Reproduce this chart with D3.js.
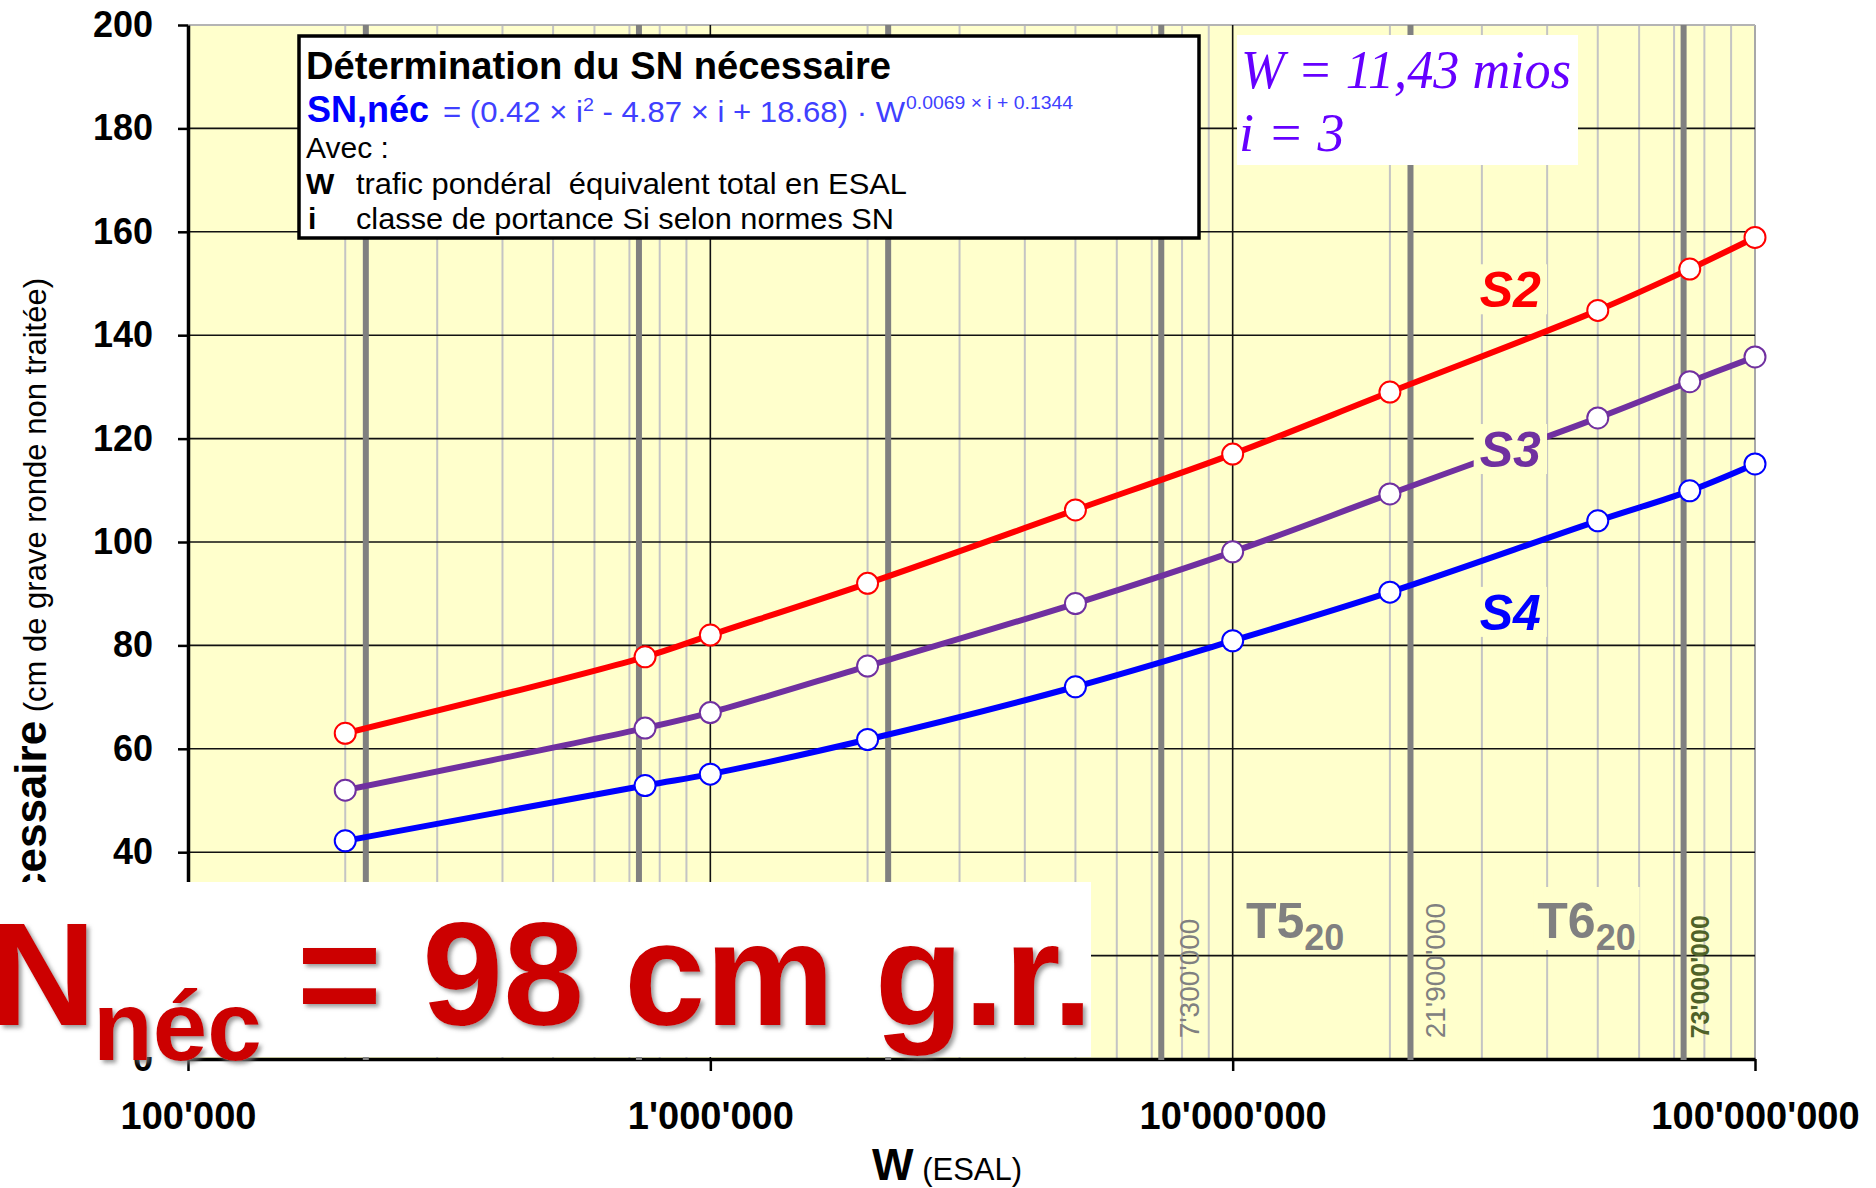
<!DOCTYPE html>
<html>
<head>
<meta charset="utf-8">
<script src="https://cdn.jsdelivr.net/npm/d3@7"></script>
<style>
  html, body { margin: 0; padding: 0; background: #ffffff; }
  svg { display: block; font-family: "Liberation Sans", Arial, Helvetica, sans-serif; }
</style>
</head>
<body>
<svg id="chart" width="1876" height="1188"></svg>
<script>
// ---- data -------------------------------------------------------------
// traffic W (ESAL) at which the required SN was evaluated
const trafficW = [200000, 750000, 1000000, 2000000, 5000000, 10000000, 20000000, 50000000, 75000000, 100000000];
// required SN (cm of untreated round gravel) for each bearing class
const snS2 = [63, 77.8, 82, 92, 106.2, 117, 129, 144.8, 152.8, 158.9];
const snS3 = [52, 64, 67, 76, 88.1, 98.1, 109.3, 124, 131, 135.8];
const snS4 = [42.2, 52.9, 55.1, 61.8, 72, 80.9, 90.3, 104.1, 109.9, 115.1];
const seriesNames = ["S2", "S3", "S4"];
const seriesColors = ["#ff0000", "#7030a0", "#0000ff"];
// label anchor (in data units) for each series name
const seriesLabelW = 3.4e7;
const seriesLabelSN = [145.4, 114.5, 83.0];

// traffic class limits (20-year ESAL)
const classLimits = [219000, 730000, 2190000, 7300000, 21900000, 73000000];
const limitLabels = ["7'300'000", "21'900'000", "73'000'000"];
const limitLabelW = [7300000, 21900000, 73000000];
const trafficClasses = ["T5", "T6"];
const trafficClassFrom = [1.06e7, 3.83e7];

// axes
const xTickValues = [1e5, 1e6, 1e7, 1e8];
const xTickLabels = ["100'000", "1'000'000", "10'000'000", "100'000'000"];
const yTickValues = [0, 20, 40, 60, 80, 100, 120, 140, 160, 180, 200];

// ---- scales -----------------------------------------------------------
const svg = d3.select("#chart");
const X0 = 188, X1 = 1755, Y0 = 1059, Y1 = 25;
const x = d3.scaleLog().domain([1e5, 1e8]).range([X0, X1]);
const y = d3.scaleLinear().domain([0, 200]).range([Y0, Y1]);

// drop shadow for the big result text
const defs = svg.append("defs");
const shadow = defs.append("filter").attr("id", "shadow")
  .attr("x", "-5%").attr("y", "-10%").attr("width", "115%").attr("height", "130%");
shadow.append("feDropShadow").attr("dx", 3).attr("dy", 3).attr("stdDeviation", 2)
  .attr("flood-color", "#7a7a7a").attr("flood-opacity", 0.75);

// ---- plot area --------------------------------------------------------
svg.append("rect").attr("x", X0).attr("y", Y1).attr("width", X1 - X0).attr("height", Y0 - Y1)
  .attr("fill", "#ffffcc");

const grid = svg.append("g");
// minor verticals 2..9 in each decade
const minorW = [];
[1e5, 1e6, 1e7].forEach(d => { for (let k = 2; k <= 9; k++) minorW.push(k * d); });
grid.selectAll("line.minor").data(minorW).join("line").attr("class", "minor")
  .attr("x1", d => x(d)).attr("x2", d => x(d)).attr("y1", Y1).attr("y2", Y0)
  .attr("stroke", "#c4c4c4").attr("stroke-width", 2);
// right border
grid.append("line").attr("x1", x(1e8)).attr("x2", x(1e8)).attr("y1", Y1).attr("y2", Y0)
  .attr("stroke", "#a8a8a8").attr("stroke-width", 2);
// horizontal gridlines
grid.selectAll("line.h").data(yTickValues.filter(v => v > 0)).join("line").attr("class", "h")
  .attr("x1", X0).attr("x2", X1).attr("y1", d => y(d)).attr("y2", d => y(d))
  .attr("stroke", d => d === 200 ? "#b4b4b4" : "#111").attr("stroke-width", d => d === 200 ? 2 : 1.6);
// decade verticals
grid.selectAll("line.dec").data([1e6, 1e7]).join("line").attr("class", "dec")
  .attr("x1", d => x(d)).attr("x2", d => x(d)).attr("y1", Y1).attr("y2", Y0)
  .attr("stroke", "#111").attr("stroke-width", 1.6);

// ---- axes -------------------------------------------------------------
const yAxis = svg.append("g").attr("transform", `translate(${X0},0)`)
  .call(d3.axisLeft(y).tickValues(yTickValues).tickSize(10).tickSizeOuter(0).tickPadding(25));
yAxis.select(".domain").attr("stroke", "#000").attr("stroke-width", 3.5);
yAxis.selectAll(".tick line").attr("stroke", "#000").attr("stroke-width", 2.5);
yAxis.selectAll(".tick text").attr("font-size", 36).attr("font-weight", "bold").attr("fill", "#000");

const xAxis = svg.append("g").attr("transform", `translate(0,${Y0})`)
  .call(d3.axisBottom(x).tickValues(xTickValues).tickFormat((d, i) => xTickLabels[i])
    .tickSize(12).tickSizeOuter(0).tickPadding(31));
xAxis.select(".domain").attr("stroke", "#000").attr("stroke-width", 3.5);
xAxis.selectAll(".tick line").attr("stroke", "#000").attr("stroke-width", 2.5);
xAxis.selectAll(".tick text").attr("font-size", 38).attr("font-weight", "bold").attr("fill", "#000");

// traffic class limits
svg.append("g").selectAll("line").data(classLimits).join("line")
  .attr("x1", d => x(d)).attr("x2", d => x(d)).attr("y1", Y1).attr("y2", Y0 + 1)
  .attr("stroke", "#808080").attr("stroke-width", 6);

// axis titles
const yTitle = svg.append("text").attr("transform", "translate(46,278) rotate(-90)")
  .attr("text-anchor", "end").attr("fill", "#000");
yTitle.append("tspan").attr("font-size", 44).attr("font-weight", "bold").text("SN nécessaire");
yTitle.append("tspan").attr("font-size", 31).text(" (cm de grave ronde non traitée)");

const xTitle = svg.append("text").attr("x", 872).attr("y", 1180).attr("fill", "#000")
  .style("white-space", "pre");
xTitle.append("tspan").attr("font-size", 44).attr("font-weight", "bold").text("W");
xTitle.append("tspan").attr("font-size", 31).text(" (ESAL)");

// ---- series -----------------------------------------------------------
const seriesValues = [snS2, snS3, snS4];
const line = d3.line().x(d => x(d[0])).y(d => y(d[1])).curve(d3.curveCatmullRom.alpha(0.5));
seriesValues.forEach((vals, s) => {
  const pts = trafficW.map((w, i) => [w, vals[i]]);
  const g = svg.append("g");
  g.append("path").attr("d", line(pts)).attr("fill", "none")
    .attr("stroke", seriesColors[s]).attr("stroke-width", 6).attr("stroke-linejoin", "round");
  g.selectAll("circle").data(pts).join("circle")
    .attr("cx", d => x(d[0])).attr("cy", d => y(d[1])).attr("r", 10.5)
    .attr("fill", "#fff").attr("stroke", seriesColors[s]).attr("stroke-width", 2);
});

// series names with a background patch
seriesNames.forEach((name, s) => {
  const g = svg.append("g");
  const bg = g.append("rect").attr("fill", "#ffffcc");
  const t = g.append("text").attr("x", x(seriesLabelW)).attr("y", y(seriesLabelSN[s]))
    .attr("text-anchor", "middle").attr("font-size", 50).attr("font-weight", "bold")
    .attr("font-style", "italic").attr("fill", seriesColors[s]).text(name);
  const b = t.node().getBBox();
  bg.attr("x", b.x - 6).attr("y", b.y + 2).attr("width", b.width + 12).attr("height", b.height - 6);
});

// traffic class names
trafficClasses.forEach((name, i) => {
  const g = svg.append("g");
  const bg = g.append("rect").attr("fill", "#ffffcc");
  const t = g.append("text").attr("x", x(trafficClassFrom[i])).attr("y", 938)
    .attr("fill", "#808080").attr("font-weight", "bold");
  t.append("tspan").attr("font-size", 50).text(name);
  t.append("tspan").attr("font-size", 36).attr("dy", 12).text("20");
  const b = t.node().getBBox();
  bg.attr("x", b.x - 4).attr("y", b.y - 6).attr("width", b.width + 8).attr("height", 950 - (b.y - 6));
});

// class limit values, written vertically beside their line
const limitOffset = [38, 35, 25];
const limitSize = [28, 28, 25];
const limitColor = ["#808080", "#808080", "#4f6228"];
const limitWeight = ["normal", "normal", "bold"];
limitLabels.forEach((txt, i) => {
  const px = x(limitLabelW[i]) + limitOffset[i];
  svg.append("text").attr("transform", `translate(${px},${y(4)}) rotate(-90)`)
    .attr("font-size", limitSize[i]).attr("font-weight", limitWeight[i])
    .attr("fill", limitColor[i]).text(txt);
});

// ---- formula box ------------------------------------------------------
const box = svg.append("g");
box.append("rect").attr("x", 299).attr("y", 36).attr("width", 900).attr("height", 202)
  .attr("fill", "#fff").attr("stroke", "#000").attr("stroke-width", 3.5);
box.append("text").attr("x", 306).attr("y", 79).attr("font-size", 38).attr("font-weight", "bold")
  .attr("textLength", 585).attr("lengthAdjust", "spacingAndGlyphs")
  .text("Détermination du SN nécessaire");
box.append("text").attr("x", 307).attr("y", 122).attr("font-size", 36).attr("font-weight", "bold")
  .attr("fill", "#0000ff").text("SN,néc");
const f = box.append("text").attr("x", 443).attr("y", 122).attr("font-size", 30).attr("fill", "#4040ff")
  .attr("textLength", 462).attr("lengthAdjust", "spacingAndGlyphs");
f.append("tspan").text("= (0.42 × i");
f.append("tspan").attr("font-size", 19).attr("dy", -11).text("2");
f.append("tspan").attr("dy", 11).text(" - 4.87 × i + 18.68) · W");
box.append("text").attr("x", 906).attr("y", 109).attr("font-size", 19).attr("fill", "#4040ff")
  .attr("textLength", 167).attr("lengthAdjust", "spacingAndGlyphs").text("0.0069 × i + 0.1344");
box.append("text").attr("x", 306).attr("y", 158).attr("font-size", 30).text("Avec :");
box.append("text").attr("x", 306).attr("y", 194).attr("font-size", 30).attr("font-weight", "bold").text("W");
box.append("text").attr("x", 356).attr("y", 194).attr("font-size", 30).style("white-space", "pre")
  .attr("textLength", 551).attr("lengthAdjust", "spacingAndGlyphs")
  .text("trafic pondéral  équivalent total en ESAL");
box.append("text").attr("x", 308).attr("y", 229).attr("font-size", 30).attr("font-weight", "bold").text("i");
box.append("text").attr("x", 356).attr("y", 229).attr("font-size", 30)
  .attr("textLength", 538).attr("lengthAdjust", "spacingAndGlyphs")
  .text("classe de portance Si selon normes SN");

// ---- input values -----------------------------------------------------
const inp = svg.append("g");
inp.append("rect").attr("x", 1237).attr("y", 35).attr("width", 341).attr("height", 130).attr("fill", "#fff");
inp.append("text").attr("x", 1241).attr("y", 88).attr("font-family", "'Liberation Serif', 'Times New Roman', serif")
  .attr("font-style", "italic").attr("font-size", 54).attr("fill", "#6600ff")
  .attr("textLength", 330).attr("lengthAdjust", "spacingAndGlyphs").text("W = 11,43 mios");
inp.append("text").attr("x", 1239).attr("y", 151).attr("font-family", "'Liberation Serif', 'Times New Roman', serif")
  .attr("font-style", "italic").attr("font-size", 54).attr("fill", "#6600ff").text("i = 3");

// ---- result -----------------------------------------------------------
const res = svg.append("g");
res.append("rect").attr("x", 0).attr("y", 882).attr("width", 1091).attr("height", 175).attr("fill", "#fff");
const rt = res.append("g").attr("filter", "url(#shadow)").attr("fill", "#cc0000").attr("font-weight", "bold");
rt.append("text").attr("x", -10).attr("y", 1025).attr("font-size", 147).text("N");
rt.append("text").attr("x", 93).attr("y", 1060).attr("font-size", 98).text("néc");
rt.append("text").attr("x", 297).attr("y", 1025).attr("font-size", 147)
  .attr("textLength", 796).attr("lengthAdjust", "spacingAndGlyphs").text("= 98 cm g.r.");
</script>
</body>
</html>
